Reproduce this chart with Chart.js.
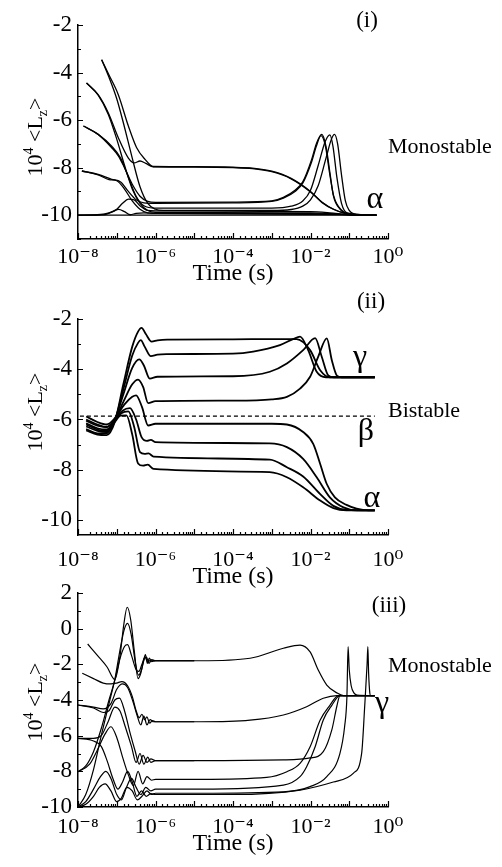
<!DOCTYPE html>
<html>
<head>
<meta charset="utf-8">
<script src="https://cdn.jsdelivr.net/npm/chart.js@4.4.0/dist/chart.umd.min.js"></script>
<style>
  html, body { margin: 0; padding: 0; background: #fff; }
  #wrap { position: relative; width: 502px; height: 867px; }
  #wrap canvas { position: absolute; left: 0; top: 0; }
</style>
</head>
<body>
<div id="wrap">
  <canvas id="c1" width="502" height="867"></canvas>
  <canvas id="c2" width="502" height="867"></canvas>
  <canvas id="c3" width="502" height="867"></canvas>
</div>
<script>
// curves are [log10(time in s), 10^4 <Lz>]

// panel (i) - monostable, everything ends at alpha
const I_C1 = [[-7.39,-3.46],[-7.2,-4.1],[-6.96,-4.93],[-6.7,-6.25],[-6.49,-7.15],[-6.27,-7.65],[-6.06,-7.95],[-5,-7.96],[-4,-7.98],[-3.5,-8.02],[-3,-8.15],[-2.5,-8.45],[-2,-9.0],[-1.7,-9.45],[-1.4,-9.75],[-1.1,-9.92],[-0.8,-9.99],[-0.3,-10]];
const I_C2 = [[-7.78,-4.44],[-7.48,-4.93],[-7.22,-5.69],[-6.96,-6.74],[-6.7,-7.6],[-6.55,-7.8],[-6.4,-7.72],[-6.25,-7.82],[-6.06,-7.97],[-5,-7.98],[-4,-8.0],[-3.5,-8.04],[-3,-8.17],[-2.5,-8.47],[-2,-9.02],[-1.7,-9.47],[-1.4,-9.76],[-1.1,-9.93],[-0.8,-9.99],[-0.3,-10]];
const I_C3 = [[-7.86,-6.25],[-7.48,-6.6],[-7.13,-7.16],[-6.96,-7.5],[-6.8,-8.0],[-6.6,-8.7],[-6.4,-9.2],[-6.2,-9.42],[-6.0,-9.46],[-4,-9.45],[-3,-9.4],[-2.7,-9.25],[-2.4,-8.95],[-2.2,-8.6],[-1.97,-7.65],[-1.85,-7.0],[-1.71,-6.6],[-1.6,-7.1],[-1.5,-8.2],[-1.41,-9.18],[-1.24,-9.74],[-1.0,-9.95],[-0.3,-10]];
const I_C4 = [[-7.9,-8.14],[-7.48,-8.28],[-7.13,-8.49],[-6.9,-8.6],[-6.7,-9.0],[-6.5,-9.35],[-6.3,-9.48],[-6.0,-9.5],[-4,-9.48],[-3,-9.42],[-2.7,-9.28],[-2.4,-9.0],[-2.2,-8.65],[-1.97,-7.75],[-1.85,-7.1],[-1.73,-6.65],[-1.62,-7.05],[-1.5,-8.3],[-1.4,-9.2],[-1.2,-9.78],[-0.9,-9.97],[-0.3,-10]];
const I_C5 = [[-7.39,-3.46],[-7.2,-4.2],[-7.0,-5.1],[-6.8,-6.3],[-6.6,-7.6],[-6.4,-8.8],[-6.2,-9.5],[-6.0,-9.75],[-5.8,-9.8],[-3,-9.8],[-2.5,-9.76],[-2.2,-9.62],[-2.0,-9.35],[-1.8,-8.75],[-1.6,-7.6],[-1.46,-6.8],[-1.38,-6.6],[-1.3,-7.0],[-1.2,-8.3],[-1.1,-9.4],[-1.0,-9.8],[-0.8,-9.97],[-0.3,-10]];
const I_C6 = [[-7.78,-4.44],[-7.48,-4.95],[-7.22,-5.75],[-7.0,-6.8],[-6.8,-7.9],[-6.6,-8.9],[-6.4,-9.5],[-6.2,-9.8],[-6.0,-9.88],[-2,-9.9],[-1.5,-9.93],[-1,-9.98],[-0.3,-10]];
const I_C7 = [[-7.86,-6.25],[-7.48,-6.6],[-7.13,-7.1],[-6.9,-7.6],[-6.7,-8.4],[-6.5,-9.2],[-6.3,-9.6],[-6.0,-9.7],[-3,-9.7],[-2.5,-9.62],[-2.2,-9.4],[-2.0,-8.95],[-1.8,-7.9],[-1.62,-6.9],[-1.5,-6.62],[-1.42,-7.1],[-1.32,-8.4],[-1.2,-9.5],[-1.05,-9.9],[-0.3,-10]];
const I_C8 = [[-7.9,-8.14],[-7.48,-8.3],[-7.2,-8.5],[-7.0,-8.55],[-6.8,-8.9],[-6.6,-9.4],[-6.4,-9.75],[-6.2,-9.9],[-6.0,-9.92],[-2,-9.93],[-1,-9.98],[-0.3,-10]];
const I_C9 = [[-8,-10],[-7.5,-9.98],[-7.2,-9.9],[-7.0,-9.75],[-6.85,-9.5],[-6.7,-9.32],[-6.55,-9.35],[-6.4,-9.6],[-6.2,-9.8],[-6,-9.82],[-2,-9.85],[-1.5,-9.9],[-1,-9.98],[-0.3,-10]];
const I_C10 = [[-8,-10],[-7.3,-9.97],[-7.1,-9.85],[-6.95,-9.75],[-6.8,-9.85],[-6.65,-9.98],[-6.5,-9.92],[-6.3,-9.9],[-6,-9.92],[-1,-9.97],[-0.3,-10]];
const I_C11 = [[-8,-10],[-0.3,-10]];

// panel (ii) - bistable: four go up to gamma, four go down to alpha
const II_G1 = [[-7.79,-6.44],[-7.5,-6.6],[-7.26,-6.62],[-7.05,-6.1],[-6.83,-4.6],[-6.6,-3.1],[-6.45,-2.5],[-6.36,-2.35],[-6.25,-2.6],[-6.1,-2.9],[-5.95,-2.85],[-5.7,-2.82],[-4,-2.81],[-3,-2.8],[-2.36,-2.8],[-2.01,-3.24],[-1.75,-4.04],[-1.5,-4.32],[-0.34,-4.32]];
const II_G2 = [[-7.79,-6.28],[-7.5,-6.45],[-7.26,-6.5],[-7.05,-6.05],[-6.83,-4.8],[-6.6,-3.45],[-6.45,-2.95],[-6.38,-2.84],[-6.28,-3.1],[-6.12,-3.48],[-5.95,-3.42],[-5.7,-3.4],[-4,-3.38],[-3.48,-3.3],[-2.79,-3.04],[-2.45,-2.8],[-2.27,-2.7],[-2.06,-3.24],[-1.84,-4.1],[-1.6,-4.32],[-0.34,-4.32]];
const II_G3 = [[-7.79,-6.15],[-7.5,-6.35],[-7.26,-6.4],[-7.05,-6.0],[-6.83,-5.0],[-6.6,-3.95],[-6.42,-3.61],[-6.3,-3.85],[-6.15,-4.37],[-5.95,-4.3],[-4,-4.28],[-3.05,-4.1],[-2.61,-3.77],[-2.19,-3.24],[-1.88,-2.76],[-1.71,-3.5],[-1.54,-4.25],[-1.4,-4.32],[-0.34,-4.32]];
const II_G4 = [[-7.79,-6.0],[-7.5,-6.2],[-7.26,-6.3],[-7.05,-6.0],[-6.83,-5.3],[-6.6,-4.6],[-6.45,-4.41],[-6.32,-4.7],[-6.19,-5.35],[-6.0,-5.27],[-4,-5.25],[-3,-5.2],[-2.61,-5.1],[-2.27,-4.77],[-2.01,-4.3],[-1.8,-3.5],[-1.58,-2.77],[-1.45,-3.64],[-1.32,-4.25],[-1.2,-4.32],[-0.34,-4.32]];
const II_B1 = [[-7.79,-5.88],[-7.5,-6.1],[-7.26,-6.2],[-7.05,-5.95],[-6.8,-5.4],[-6.6,-5.1],[-6.5,-5.04],[-6.35,-5.5],[-6.19,-6.24],[-6.0,-6.17],[-3,-6.17],[-2.61,-6.2],[-2.19,-6.5],[-1.93,-6.97],[-1.75,-7.77],[-1.58,-8.57],[-1.37,-9.1],[-1.07,-9.4],[-0.81,-9.55],[-0.5,-9.62],[-0.34,-9.62]];
const II_B2 = [[-7.79,-6.05],[-7.5,-6.25],[-7.26,-6.3],[-7.05,-6.0],[-6.85,-5.65],[-6.66,-5.55],[-6.5,-6.0],[-6.36,-6.7],[-6.22,-6.85],[-6.12,-6.81],[-6.0,-6.9],[-3.05,-6.95],[-2.61,-7.1],[-2.19,-7.57],[-1.84,-8.3],[-1.5,-9.1],[-1.15,-9.5],[-0.8,-9.62],[-0.34,-9.62]];
const II_B3 = [[-7.79,-6.2],[-7.5,-6.4],[-7.26,-6.45],[-7.05,-6.05],[-6.88,-5.75],[-6.7,-5.68],[-6.55,-6.3],[-6.4,-7.3],[-6.28,-7.37],[-6.18,-7.35],[-6.05,-7.48],[-3.05,-7.6],[-2.61,-7.9],[-2.19,-8.27],[-1.75,-8.97],[-1.41,-9.44],[-1.07,-9.6],[-0.34,-9.62]];
const II_B4 = [[-7.79,-6.38],[-7.5,-6.55],[-7.26,-6.55],[-7.05,-6.1],[-6.9,-5.85],[-6.75,-5.84],[-6.6,-6.6],[-6.45,-7.75],[-6.32,-7.84],[-6.2,-7.8],[-6.05,-7.97],[-3.05,-8.1],[-2.61,-8.3],[-2.19,-8.7],[-1.75,-9.23],[-1.41,-9.53],[-1.07,-9.62],[-0.34,-9.62]];
const II_SEPARATRIX = [[-7.95,-5.87],[-0.34,-5.87]];

// panel (iii) - monostable, everything ends at gamma
const III_Q1 = [[-7.75,-0.86],[-7.5,-1.5],[-7.25,-2.15],[-7.05,-2.85],[-6.92,-1.6],[-6.82,0.2],[-6.73,1.2],[-6.64,0.5],[-6.55,-1.2],[-6.45,-2.8],[-6.38,-2.5],[-6.31,-1.8],[-6.26,-1.45],[-6.21,-1.95],[-6.16,-1.65],[-6.1,-1.85],[-6.0,-1.8],[-4.85,-1.8],[-3.56,-1.66],[-2.7,-1.1],[-2.27,-0.92],[-2.01,-1.3],[-1.8,-2.32],[-1.58,-3.16],[-1.32,-3.6],[-1.15,-3.75],[-0.34,-3.75]];
const III_Q2 = [[-8,-10],[-7.8,-9.3],[-7.6,-7.9],[-7.4,-6.0],[-7.2,-4.2],[-7.05,-2.85],[-6.9,-1.0],[-6.8,0.0],[-6.72,0.3],[-6.63,-0.3],[-6.52,-1.9],[-6.44,-2.6],[-6.36,-2.3],[-6.29,-1.7],[-6.23,-1.6],[-6.17,-1.95],[-6.1,-1.75],[-6.0,-1.8],[-5,-1.8]];
const III_Q3 = [[-8,-8.02],[-7.8,-7.7],[-7.6,-6.9],[-7.4,-5.6],[-7.2,-4.0],[-7.05,-2.9],[-6.92,-1.7],[-6.8,-1.0],[-6.72,-0.9],[-6.62,-1.5],[-6.5,-2.3],[-6.43,-2.4],[-6.35,-2.0],[-6.27,-1.6],[-6.2,-1.85],[-6.1,-1.75],[-6.0,-1.8],[-5,-1.8]];
const III_Q4 = [[-7.89,-2.5],[-7.6,-2.8],[-7.35,-3.05],[-7.15,-3.1],[-7.0,-3.05],[-6.87,-2.97],[-6.72,-3.2],[-6.6,-3.8],[-6.5,-4.6],[-6.42,-5.0],[-6.35,-4.8],[-6.28,-5.1],[-6.22,-4.95],[-6.15,-5.3],[-6.08,-5.15],[-6.0,-5.22],[-4.85,-5.22],[-3.56,-5.13],[-2.7,-4.84],[-2.1,-4.38],[-1.67,-3.9],[-1.32,-3.75],[-0.34,-3.75]];
const III_Q5 = [[-8,-4.28],[-7.6,-4.4],[-7.35,-4.5],[-7.15,-4.2],[-7.0,-3.4],[-6.85,-3.1],[-6.72,-3.3],[-6.58,-4.1],[-6.47,-4.9],[-6.38,-5.4],[-6.3,-4.9],[-6.22,-5.4],[-6.14,-5.1],[-6.05,-5.22],[-5,-5.22]];
const III_Q6 = [[-8,-6.15],[-7.6,-6.15],[-7.4,-6.0],[-7.22,-5.2],[-7.05,-4.4],[-6.92,-4.6],[-6.78,-5.5],[-6.62,-6.6],[-6.5,-7.5],[-6.4,-7.0],[-6.3,-7.6],[-6.2,-7.2],[-6.12,-7.5],[-6.0,-7.4],[-4.85,-7.4],[-2.7,-7.36],[-2.01,-7.25],[-1.67,-6.9],[-1.45,-5.68],[-1.32,-4.35],[-1.24,-3.75],[-0.34,-3.75]];
const III_Q7 = [[-8,-4.28],[-7.6,-4.45],[-7.35,-4.7],[-7.2,-4.6],[-7.05,-4.0],[-6.93,-3.9],[-6.8,-4.6],[-6.65,-5.9],[-6.52,-6.9],[-6.42,-7.6],[-6.32,-7.1],[-6.22,-7.5],[-6.12,-7.3],[-6.0,-7.4],[-5,-7.4]];
const III_Q8 = [[-8,-8.02],[-7.7,-7.6],[-7.5,-6.8],[-7.3,-5.9],[-7.15,-5.5],[-7.0,-6.1],[-6.85,-7.2],[-6.7,-8.2],[-6.57,-8.8],[-6.45,-8.0],[-6.33,-8.7],[-6.22,-8.3],[-6.1,-8.5],[-6.0,-8.45],[-4.85,-8.45],[-3.13,-8.34],[-2.61,-8.02],[-2.27,-7.55],[-2.01,-6.62],[-1.75,-5.12],[-1.5,-4.3],[-1.28,-3.75],[-0.34,-3.75]];
const III_Q9 = [[-8,-10],[-7.8,-9.7],[-7.6,-9.0],[-7.42,-8.3],[-7.28,-8.0],[-7.15,-8.4],[-7.0,-9.3],[-6.88,-9.6],[-6.75,-8.9],[-6.62,-8.4],[-6.5,-8.9],[-6.38,-9.3],[-6.25,-8.9],[-6.12,-9.1],[-6.0,-9.0],[-4.85,-9.0],[-2.7,-8.77],[-2.27,-8.3],[-2.1,-7.74],[-1.88,-6.62],[-1.67,-5.12],[-1.45,-4.3],[-1.24,-3.75],[-0.34,-3.75]];
const III_Q10 = [[-8,-10],[-7.8,-9.85],[-7.6,-9.4],[-7.45,-8.9],[-7.3,-8.7],[-7.15,-9.1],[-7.0,-9.7],[-6.88,-9.5],[-6.74,-8.9],[-6.6,-9.1],[-6.47,-9.6],[-6.35,-9.4],[-6.22,-9.1],[-6.1,-9.3],[-6.0,-9.23],[-4.85,-9.23],[-2.7,-9.15],[-2.01,-8.86],[-1.58,-8.3],[-1.24,-6.99],[-1.12,-5.5],[-1.06,-3.8],[-1.03,-1.0],[-1.0,-2.3],[-0.95,-3.2],[-0.88,-3.6],[-0.8,-3.72],[-0.34,-3.75]];
const III_Q11 = [[-8,-6.15],[-7.6,-6.3],[-7.4,-6.6],[-7.25,-7.4],[-7.1,-8.4],[-6.97,-9.0],[-6.85,-8.6],[-6.72,-8.0],[-6.6,-8.6],[-6.48,-9.4],[-6.36,-9.1],[-6.24,-9.4],[-6.12,-9.25],[-6.0,-9.3],[-4,-9.3],[-2.27,-9.05],[-1.41,-8.6],[-0.89,-8.1],[-0.68,-6.99],[-0.6,-4.3],[-0.54,-2.0],[-0.52,-1.0],[-0.5,-2.5],[-0.47,-3.6],[-0.45,-3.75],[-0.34,-3.75]];

const SERIF = '"Liberation Serif", "Times New Roman", "DejaVu Serif", serif';
const SUP = {'-': '\u207B', '0': '\u2070', '1': '\u00B9', '2': '\u00B2', '3': '\u00B3', '4': '\u2074',
    '5': '\u2075', '6': '\u2076', '7': '\u2077', '8': '\u2078', '9': '\u2079'};

function toXY(pts) {
    return pts.map(p => ({x: Math.pow(10, p[0]), y: p[1]}));
}

function decadeLabel(v) {
    let e = Math.log10(v);
    let r = Math.round(e);
    if (Math.abs(e - r) > 1e-6 || r % 2 !== 0) return '';
    return '10' + String(r).split('').map(c => SUP[c]).join('');
}

// ticks drawn on the inside of the axes, like the original
const inwardTicks = {
    id: 'inwardTicks',
    afterDraw(chart) {
        const {ctx, chartArea, scales} = chart;
        ctx.save();
        ctx.strokeStyle = '#000';
        ctx.lineWidth = 1.2;
        ctx.beginPath();
        scales.x.ticks.forEach(t => {
            let px = Math.round(scales.x.getPixelForValue(t.value)) + 0.5;
            let e = Math.log10(t.value);
            let len = Math.abs(e - Math.round(e)) < 1e-6 ? 6 : 3;
            ctx.moveTo(px, chartArea.bottom);
            ctx.lineTo(px, chartArea.bottom - len);
        });
        scales.y.ticks.forEach(t => {
            let py = Math.round(scales.y.getPixelForValue(t.value)) + 0.5;
            let len = Math.round(t.value) % 2 === 0 ? 5 : 3;
            ctx.moveTo(chartArea.left, py);
            ctx.lineTo(chartArea.left + len, py);
        });
        ctx.stroke();
        ctx.restore();
    }
};

function richText(ctx, segs, size) {
    let w = 0;
    segs.forEach(s => {
        ctx.font = (s.sup || s.sub ? Math.round(size * 0.62) : size) + 'px ' + SERIF;
        s.w = ctx.measureText(s.t).width;
        w += s.w;
    });
    let x = -w / 2;
    segs.forEach(s => {
        ctx.font = (s.sup || s.sub ? Math.round(size * 0.62) : size) + 'px ' + SERIF;
        let dy = s.sup ? -size * 0.4 : (s.sub ? size * 0.2 : 0);
        ctx.fillText(s.t, x, size * 0.33 + dy);
        x += s.w;
    });
}

function notesPlugin(p) {
    return {
        id: 'notes',
        afterDraw(chart) {
            const ctx = chart.ctx;
            ctx.save();
            ctx.fillStyle = '#000';
            ctx.textBaseline = 'alphabetic';
            // y axis title 10^4 <Lz>
            ctx.save();
            ctx.translate(35, p.yTitleAt);
            ctx.rotate(-Math.PI / 2);
            ctx.textAlign = 'left';
            richText(ctx, [{t: '10'}, {t: '4', sup: true}, {t: ' <L'}, {t: 'z', sub: true}, {t: '>'}], 22);
            ctx.restore();
            p.notes.forEach(n => {
                ctx.font = n.size + 'px ' + SERIF;
                ctx.textAlign = n.align || 'center';
                ctx.fillText(n.text, n.x, n.y);
            });
            ctx.restore();
        }
    };
}

function makePanel(id, p) {
    const H = 867;
    let sets = p.curves.map(c => ({
        data: toXY(c), borderColor: '#000', borderWidth: p.lw, pointRadius: 0,
        fill: false, cubicInterpolationMode: 'monotone'
    }));
    if (p.dashed) {
        sets.push({data: toXY(p.dashed), borderColor: '#000', borderWidth: 1.2, borderDash: [4, 3],
            pointRadius: 0, fill: false});
    }
    return new Chart(document.getElementById(id), {
        type: 'line',
        data: {datasets: sets},
        options: {
            responsive: false,
            animation: false,
            events: [],
            layout: {padding: {left: 0, right: 502 - 388, top: p.top, bottom: H - p.titleBottom}},
            plugins: {legend: {display: false}, tooltip: {enabled: false}},
            scales: {
                x: {
                    type: 'logarithmic', min: 1e-8, max: 1,
                    afterFit: s => { s.height = p.titleBottom - p.bottom; },
                    grid: {display: false, drawTicks: false},
                    border: {display: true, color: '#000', width: 1.5},
                    ticks: {autoSkip: false, maxRotation: 0, minRotation: 0, padding: p.tickPad,
                        color: '#000', font: {family: SERIF, size: 22}, callback: v => decadeLabel(v)},
                    title: {display: true, text: 'Time (s)', color: '#000',
                        font: {family: SERIF, size: 24}, padding: {top: 0, bottom: 0}}
                },
                y: {
                    type: 'linear', min: p.yMin, max: p.yMax,
                    afterFit: s => { s.width = 78; },
                    // one tick per whole unit, labels on the even ones
                    afterBuildTicks: s => {
                        let t = [];
                        for (let v = Math.ceil(p.yMin); v <= p.yMax; v++) t.push({value: v});
                        s.ticks = t;
                    },
                    grid: {display: false, drawTicks: false},
                    border: {display: true, color: '#000', width: 1.5},
                    ticks: {stepSize: 1, autoSkip: false, padding: 6, color: '#000',
                        font: {family: SERIF, size: 23},
                        callback: v => (Math.round(v) % 2 === 0 ? String(v) : '')}
                }
            }
        },
        plugins: [inwardTicks, notesPlugin(p)]
    });
}

makePanel('c1', {
    curves: [I_C1, I_C2, I_C3, I_C4, I_C5, I_C6, I_C7, I_C8, I_C9, I_C10, I_C11],
    lw: 1.3, yMin: -11, yMax: -2, top: 25, bottom: 239, titleBottom: 288, tickPad: 5,
    yTitleAt: 137,
    notes: [
        {text: '(i)', x: 367, y: 27, size: 23},
        {text: 'Monostable', x: 388, y: 153, size: 22, align: 'left'},
        {text: 'α', x: 375, y: 208, size: 32}
    ]
});

makePanel('c2', {
    curves: [II_G1, II_G2, II_G3, II_G4, II_B1, II_B2, II_B3, II_B4],
    dashed: II_SEPARATRIX,
    lw: 1.8, yMin: -10.6, yMax: -2, top: 319, bottom: 535, titleBottom: 591, tickPad: 12,
    yTitleAt: 412,
    notes: [
        {text: '(ii)', x: 371, y: 308, size: 23},
        {text: 'γ', x: 360, y: 366, size: 32},
        {text: 'Bistable', x: 388, y: 417, size: 22, align: 'left'},
        {text: 'β', x: 366, y: 440, size: 32},
        {text: 'α', x: 372, y: 507, size: 32}
    ]
});

makePanel('c3', {
    curves: [III_Q1, III_Q2, III_Q3, III_Q4, III_Q5, III_Q6, III_Q7, III_Q8, III_Q9, III_Q10, III_Q11],
    lw: 1.2, yMin: -10, yMax: 2, top: 593, bottom: 807, titleBottom: 858, tickPad: 7,
    yTitleAt: 702,
    notes: [
        {text: '(iii)', x: 389, y: 612, size: 23},
        {text: 'Monostable', x: 388, y: 672, size: 22, align: 'left'},
        {text: 'γ', x: 382, y: 712, size: 32}
    ]
});
</script>
</body>
</html>
